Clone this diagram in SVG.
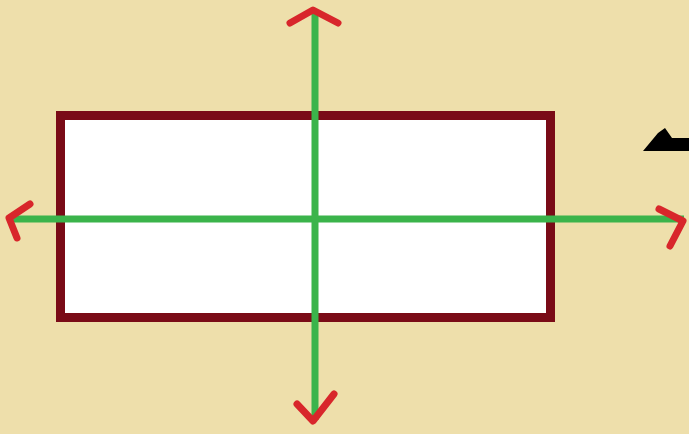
<svg xmlns="http://www.w3.org/2000/svg" width="689" height="434" viewBox="0 0 689 434">
<style>
.axis{stroke:#3BB44B;stroke-width:7;fill:none}
.head{stroke:#D8262B;stroke-width:7;fill:none;stroke-linecap:round;stroke-linejoin:round}
</style>
<rect width="689" height="434" fill="#EEDFAB"/>
<g id="box">
<rect x="60.5" y="115.5" width="490" height="202" fill="#FFFFFF" stroke="#7A0B17" stroke-width="9"/>
</g>
<path id="blob" d="M643,151 L658,133 L665,128 L672,138 L689,138 L689,151 Z" fill="#000"/>
<g id="connectors">
<line class="axis" x1="10" y1="219" x2="684" y2="219"/>
<line class="axis" x1="315" y1="14" x2="315" y2="420"/>
<polyline class="head" points="290,23 313,10 338,23"/>
<polyline class="head" points="30,204 9,218 17,238"/>
<polyline class="head" points="659,209 683,221 670,246"/>
<polyline class="head" points="297,404 313,421 334,394"/>
</g>
</svg>
